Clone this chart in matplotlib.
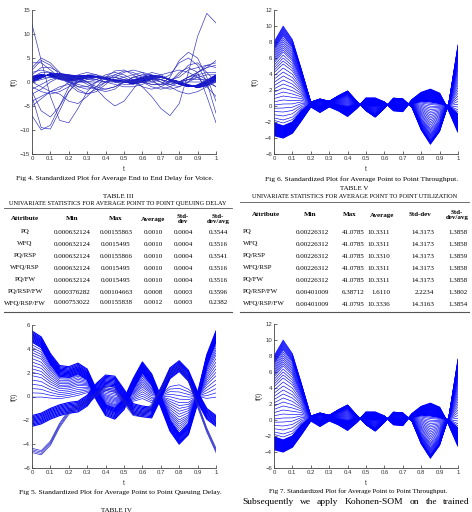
import numpy as np
import matplotlib
matplotlib.use('Agg')
import matplotlib.pyplot as plt

plt.rcParams['font.family'] = 'Liberation Serif'

W, H = 472, 512

# knots on t (0 .. 1 step 0.05)
t = np.arange(21) / 20

# ---- Fig 4 : end to end delay for voice ----
voice_band_a = [0.0, 0.8, 1.8, 1.8, 1.5, 1.3, 1.4, 1.2, 0.9, 0.4, 0.0, -0.4, -0.1, 0.6, 1.0, 0.6, 0.1, -0.6, -1.2, -0.8, 0.3]
voice_band_b = [1.2, 1.6, 1.2, 0.6, 0.2, 0.4, 0.8, 0.9, 0.6, 0.2, 0.2, 0.4, 1.0, 1.4, 1.2, 0.3, -0.5, -1.0, -0.6, 0.4, 1.5]
c1 = [12, 4.5, -3, -8, -8.5, -5.5, -2, 0, 1, 1, 0.5, 0, 0, 0.5, 0.5, 0, 0, 0.5, 0.5, 0.5, 0.5]
c2 = [-7, -10, -9, -5, -1, 1.5, 2, 1.5, 0.5, 0, 0, 0.5, 1, 1, 0.5, 0, 0, 0, 0, 0, 0]
c3 = [-3, -9.5, -9.8, -6, -2, 0.5, 1.5, 1.5, 1, 0, -0.5, -0.5, 0, 0.5, 0.5, 0, 0, 0.5, 1, 0, -1]
c4 = [-2, -6, -7.3, -5, -2, 0, 1, 1, 0.5, 0, 0, 0, 0.5, 1, 1, 0.5, 0, -0.5, -1, -0.5, 0]
c5 = [3, 5, 4, 2, 0, -1.5, -2.5, -2, -0.5, 1, 2, 2.5, 2, 0.5, -1, -1.5, -1, 0, 1, 1.5, 1.5]
c6 = [2.5, 4.5, 3.5, 1.5, -0.5, -2, -2.5, -1.5, 0, 1.5, 2.3, 2, 1, 0, -0.5, -0.5, 0, 1, 2, 3, 4.5]
c7 = [1, 2, 2, 1.5, 1, 0.5, 0, -1.5, -3.5, -5, -4, -1.5, 1, 2, 1.5, 0.5, 0, 0.5, 1.5, 2, 2]
c8 = [0, 0.5, 1, 1, 0.5, 0, 0, 0.5, 1.5, 2, 1.5, 0.5, -1, -3, -5.5, -7, -4.5, 2, 9.5, 14.3, 12.3]
c9 = [0, -1, -2, -1.5, 0, 1, 1, 0.5, 0, 0, 0, 0, 0, -0.5, -0.5, 1, 4.5, 6.2, 5, 1, -4]
c10 = [-1, -2, -2.5, -2, -1, 0, 0.5, 1, 1, 1, 0.5, 0, 0, 0, 0.5, 1.5, 4, 5, 3.5, 0, -6.5]
c11 = [0.5, 1, 1, 0.5, 0, 0, 0, 0, 0, 0.5, 0.5, 0.5, 0, -0.5, -0.5, 0, 2, 3, 2, -3, -8.5]
c12 = [-4, -3, -2, -2.5, -4, -4.5, -3, -1, 1, 2.3, 2.5, 1.5, 0, -1, -1.5, -1, 0, 1, 1.5, 0.5, -1]
c13 = [4, 4, 2.5, 1, 0, -0.5, -1, -1.5, -1.5, -1, 0, 1, 1.5, 1.5, 1, 0.5, 1, 2.5, 3, 3.5, 4]
c14 = [-5, -3.5, -2, -1, -0.5, 0, 0.5, 0.5, 0, -0.5, -1, -1, -0.5, 0.5, 1.5, 2, 2.5, 2, 1, -1, -3]
c15 = [1.5, 3, 3, 2, 0.5, -1, -1.5, -1, 0, 0.5, 1, 1.5, 2, 1.5, 0.5, -0.5, -1, 0, 2, 3.5, 3]
c16 = [-1.5, -0.5, 0.5, 1, 1, 0.5, -0.5, -1.5, -2, -1.5, 0, 1, 1.5, 1, 0, -1, -2, -2.5, -2, -1, 0]
c17 = [2, 2.5, 2, 1, 0, -1, -1, 0, 1, 1.5, 1, 0, -1, -1.5, -1, 0, 1.5, 3.5, 4, 2, 0]
c18 = [-2.5, -1.5, 0, 1, 1.5, 1, 0, -1, -1.5, -1, 0, 1, 1, 0.5, 0, -0.5, 0, 1, 2, 3, 3.5]
voice_curves = [c1, c2, c3, c4, c5, c6, c7, c8, c9, c10, c11, c12, c13, c14, c15, c16, c17, c18]

# ---- Fig 6 / Fig 7 : point to point throughput ----
thr_fan = [8.0, 10.0, 8.3, 4.5, 0.5, 0.9, 0.6, 1.3, 1.9, 0.6, -0.6, -1.4, -0.3, 1.0, 0.9, -0.2, -3.0, -4.8, -3.2, 0.4, 7.7]
thr_band_out = [-3.7, -4.0, -3.4, -1.8, -0.1, -0.8, -0.1, -0.6, -1.3, -0.3, 1.0, 1.0, 0.5, -0.6, -0.7, 0.8, 1.7, 2.1, 1.6, -0.6, -3.3]
thr_band_in = [-2.1, -2.5, -2.0, -0.6, 0.3, -0.1, 0.3, 0.1, -0.1, 0.2, 0.1, 0.0, 0.2, 0.2, 0.1, 0.3, 0.6, 0.5, 0.3, 0.0, -1.0]

# ---- Fig 5 : point to point queuing delay ----
q_upper = [5.2, 4.7, 3.3, 2.3, 2.2, 2.5, 2.0, 0.3, -1.0, -1.3, -0.5, 1.2, 2.6, 1.6, -0.3, -2.3, -3.4, -2.6, 0.0, 3.2, 5.2]
q_lower = [-2.0, -1.8, -1.4, -1.1, -0.9, -0.8, -0.3, 0.7, 1.4, 1.3, 0.2, -1.0, -1.2, -1.3, 0.3, 2.0, 2.6, 1.8, 0.0, -1.4, -2.0]
q_third = [-4.7, -4.9, -4.1, -2.6, -1.5, -1.0, -0.6, 0.0, 0.5, 0.4, -0.6, -1.6, -1.7, -1.0, 0.4, 1.8, 2.3, 1.3, -0.9, -3.0, -4.7]

# blend weights of the curve families
band_w = [0, .05, .1, .15, .2, .25, .3, .35, .4, .45, .5, .55, .6, .65, .7, .75, .8, .85, .9, .95, 1]
thr_fan_w = [1, .99, .98, .97, .96, .95, .94, .93, .92, .91, .9, .88, .86, .84, .82, .8, .78, .76, .74,
             .71, .68, .65, .62, .58, .54, .5, .46, .42, .38, .34, .3, .26, .22, .18, .14, .1, .06, .03]
q_fan_w = [1, .97, .94, .91, .88, .85, .82, .79, .76, .72, .68, .64, .6, .56, .52, .47, .42, .37, .32, .27]
q_band_off = [-0.6, -0.5, -0.4, -0.3, -0.2, -0.1, 0.0, 0.1, 0.2, 0.3]
q_third_off = [0.0, 0.12, 0.24, 0.36]

# ---- tables ----
cols = ['Attribute', 'Min', 'Max', 'Average', 'Std-\ndev', 'Std-\ndev/avg']
cols_v = ['Attribute', 'Min', 'Max', 'Average', 'Std-dev', 'Std-\ndev/avg']
queue_attr = ['PQ', 'WFQ', 'PQ/RSP', 'WFQ/RSP', 'PQ/FW', 'PQ/RSP/FW', 'WFQ/RSP/FW']
queue_min = ['0.000632124', '0.000632124', '0.000632124', '0.000632124', '0.000632124', '0.000376282', '0.000753022']
queue_max = ['0.00155863', '0.0015495', '0.00155866', '0.0015495', '0.0015495', '0.00104663', '0.00155838']
queue_avg = ['0.0010', '0.0010', '0.0010', '0.0010', '0.0010', '0.0008', '0.0012']
queue_std = ['0.0004', '0.0004', '0.0004', '0.0004', '0.0004', '0.0003', '0.0003']
queue_rel = ['0.3544', '0.3516', '0.3541', '0.3516', '0.3516', '0.3596', '0.2382']
util_attr = ['PQ', 'WFQ', 'PQ/RSP', 'WFQ/RSP', 'PQ/FW', 'PQ/RSP/FW', 'WFQ/RSP/FW']
util_min = ['0.00226312', '0.00226312', '0.00226312', '0.00226312', '0.00226312', '0.00401009', '0.00401009']
util_max = ['41.0785', '41.0785', '41.0785', '41.0785', '41.0785', '6.38712', '41.0795']
util_avg = ['10.3311', '10.3311', '10.3310', '10.3311', '10.3311', '1.6110', '10.3336']
util_std = ['14.3173', '14.3173', '14.3173', '14.3173', '14.3173', '2.2234', '14.3163']
util_rel = ['1.3858', '1.3858', '1.3859', '1.3858', '1.3858', '1.3802', '1.3854']

body_words = ['Subsequently', 'we', 'apply', 'Kohonen-SOM', 'on', 'the', 'trained']


def px(x, y):
    return x / W, 1 - y / H


def family(ax, lo, hi, weights, lw=0.5, color='#0000ff'):
    lo = np.asarray(lo, dtype=float)
    hi = np.asarray(hi, dtype=float)
    for w in weights:
        ax.plot(t, lo + w * (hi - lo), color=color, lw=lw, solid_capstyle='butt')


def make_axes(left, top, right, bottom, ylim, yticks, ylab_x):
    ax = fig.add_axes([left / W, 1 - bottom / H, (right - left) / W, (bottom - top) / H])
    ax.set_xlim(0, 1)
    ax.set_ylim(*ylim)
    ax.set_xticks(np.arange(11) / 10)
    ax.set_xticklabels(['0', '0.1', '0.2', '0.3', '0.4', '0.5', '0.6', '0.7', '0.8', '0.9', '1'])
    ax.set_yticks(yticks)
    for s in ['top', 'right']:
        ax.spines[s].set_visible(False)
    for s in ['left', 'bottom']:
        ax.spines[s].set_linewidth(0.6)
        ax.spines[s].set_color('#444444')
    ax.tick_params(direction='in', length=2, width=0.5, labelsize=4.3, pad=1.5,
                   colors='#333333')
    for lab in ax.get_xticklabels() + ax.get_yticklabels():
        lab.set_family('Liberation Sans')
    ax.set_xlabel('t', fontsize=4.8, family='Liberation Sans', color='#333333')
    ax.set_ylabel('f(t)', fontsize=4.8, family='Liberation Sans', color='#333333')
    ax.xaxis.set_label_coords(0.5, -0.085)
    ax.yaxis.set_label_coords(ylab_x, 0.5)
    return ax


fig = plt.figure(figsize=(W / 100, H / 100), dpi=100)

# Fig 4
ax4 = make_axes(32, 10, 216, 154, (-15, 15), [-15, -10, -5, 0, 5, 10, 15], -0.075)
family(ax4, voice_band_a, voice_band_b, band_w, lw=0.5, color='#1010d0')
for c in voice_curves:
    ax4.plot(t, c, color='#2a2ac0', lw=0.45)

# Fig 6 and Fig 7
for box, ylx in [((274, 10, 458, 154), -0.08), ((274, 324, 458, 468), -0.06)]:
    ax = make_axes(*box, (-6, 12), [-6, -4, -2, 0, 2, 4, 6, 8, 10, 12], ylx)
    family(ax, thr_band_in, thr_fan, thr_fan_w, lw=0.45)
    family(ax, thr_band_out, thr_band_in, band_w, lw=0.8)

# Fig 5
ax5 = make_axes(32, 325, 216, 468, (-6, 6), [-6, -4, -2, 0, 2, 4, 6], -0.075)
family(ax5, q_lower, q_upper, q_fan_w, lw=0.45)
for d in q_band_off:
    ax5.plot(t, np.asarray(q_upper) + d, color='#0000ff', lw=0.8)
    ax5.plot(t, np.asarray(q_lower) + d + 0.1, color='#0000ff', lw=0.8)
for d in q_third_off:
    ax5.plot(t, np.asarray(q_third) + d, color='#1a1acc', lw=0.45)

# captions
cap = dict(fontsize=5.4, ha='center', va='center')
fig.text(*px(115, 178), 'Fig 4. Standardized Plot for Average End to End Delay for Voice.', **cap)
fig.text(*px(362, 179), 'Fig 6. Standardized Plot for Average Point to Point Throughput.', **cap)
fig.text(*px(120, 492), 'Fig 5. Standardized Plot for Average Point to Point Queuing Delay.', **cap)
fig.text(*px(358, 491), 'Fig 7. Standardized Plot for Average Point to Point Throughput.', fontsize=5.0,
         ha='center', va='center')
fig.text(*px(116, 510), 'TABLE IV', fontsize=5.0, ha='center', va='center')

# body text, justified word by word between x0 and x1
x0, x1 = 242, 470
body = [fig.text(*px(x0, 502), wd, fontsize=6.8, ha='left', va='center') for wd in body_words]
rend = fig.canvas.get_renderer()
widths = [b.get_window_extent(rend).width for b in body]
gap = (x1 - x0 - sum(widths)) / (len(body) - 1)
xpos = x0
for b, wdt in zip(body, widths):
    b.set_position(px(xpos, 502))
    xpos += wdt + gap


def draw_table(title_no, title, y_no, y_title, y_rule, x0, x1, col_x, col_ha, header, y_head,
               columns, row_y, y_bottom):
    fig.text(*px((x0 + x1) / 2, y_no), title_no, fontsize=5.0, ha='center', va='center')
    fig.text(*px((x0 + x1) / 2, y_title), title, fontsize=4.5, ha='center', va='center')
    fig.add_artist(plt.Line2D([x0 / W, x1 / W], [1 - y_rule / H] * 2, color='#555555', lw=0.6))
    fig.add_artist(plt.Line2D([x0 / W, x1 / W], [1 - y_bottom / H] * 2, color='#555555', lw=0.8))
    for hx, hlab in zip(col_x[0], header):
        fig.text(*px(hx, y_head), hlab, fontsize=5.0, fontweight='bold', ha='center',
                 va='center', linespacing=1.0)
    for ci, col in enumerate(columns):
        for ry, val in zip(row_y, col):
            fig.text(*px(col_x[1][ci], ry), val, fontsize=5.0, ha=col_ha[ci], va='center')


draw_table('TABLE III', 'UNIVARIATE STATISTICS FOR AVERAGE POINT TO POINT QUEUING DELAY',
           197, 204, 208, 4, 232,
           ([25, 72, 116, 153, 183, 218], [25, 72, 116, 153, 183, 218]),
           ['center'] * 6, cols, 219,
           [queue_attr, queue_min, queue_max, queue_avg, queue_std, queue_rel],
           [232, 244, 256, 268, 280, 292, 303], 312)

draw_table('TABLE V', 'UNIVARIATE STATISTICS FOR AVERAGE POINT TO POINT UTILIZATION',
           188, 197, 202, 240, 469,
           ([266, 310, 350, 382, 420, 457], [243, 312, 353, 390, 434, 468]),
           ['left', 'center', 'center', 'right', 'right', 'right'], cols_v, 215,
           [util_attr, util_min, util_max, util_avg, util_std, util_rel],
           [232, 244, 256, 268, 280, 292, 304], 312)

fig.savefig('out.png', dpi=100)
